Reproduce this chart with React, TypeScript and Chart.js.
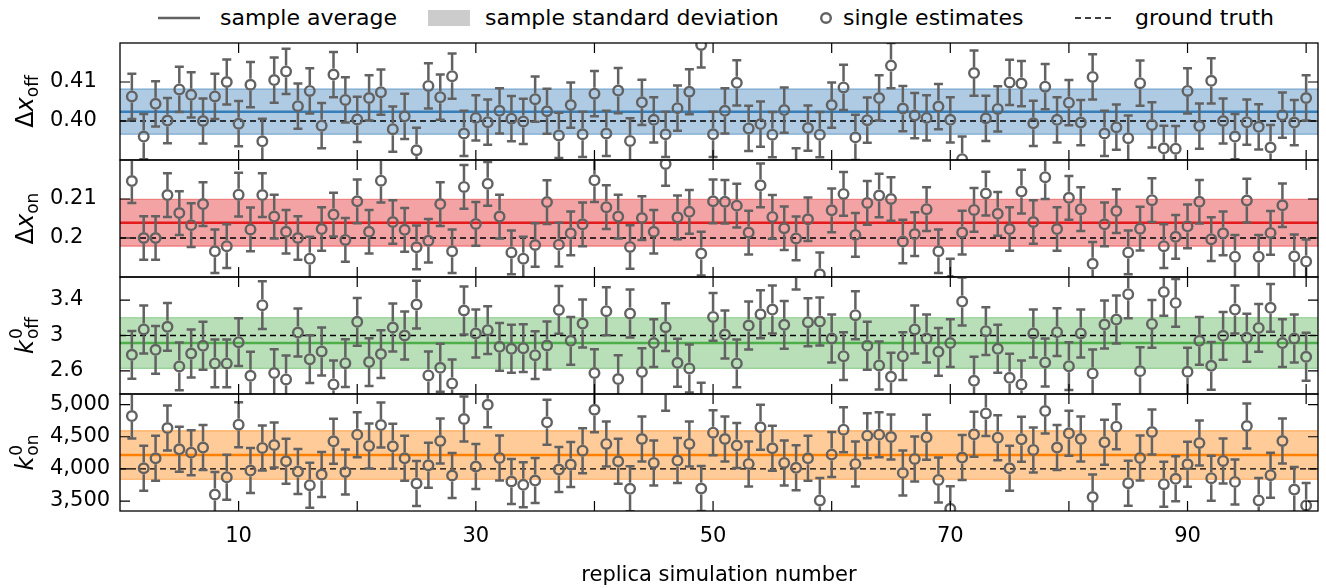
import React, { useEffect, useRef } from 'react';
import { Chart, registerables } from 'chart.js';
Chart.register(...registerables);

const FONT = "'DejaVu Sans', sans-serif";
const GRAY = '#626262';

const replicas = [
  1, 2, 3, 4, 5, 6, 7, 8, 9, 10, 11, 12, 13, 14, 15, 16, 17, 18, 19, 20,
  21, 22, 23, 24, 25, 26, 27, 28, 29, 30, 31, 32, 33, 34, 35, 36, 37, 38, 39, 40,
  41, 42, 43, 44, 45, 46, 47, 48, 49, 50, 51, 52, 53, 54, 55, 56, 57, 58, 59, 60,
  61, 62, 63, 64, 65, 66, 67, 68, 69, 70, 71, 72, 73, 74, 75, 76, 77, 78, 79, 80,
  81, 82, 83, 84, 85, 86, 87, 88, 89, 90, 91, 92, 93, 94, 95, 96, 97, 98, 99, 100,
];

const dxOffValues = [
  0.4063, 0.3960, 0.4044, 0.4001, 0.4081, 0.4067, 0.4000, 0.4063, 0.4100, 0.3993,
  0.4093, 0.3948, 0.4105, 0.4127, 0.4038, 0.4077, 0.3988, 0.4119, 0.4054, 0.4004,
  0.4059, 0.4074, 0.3979, 0.4012, 0.3925, 0.4090, 0.4061, 0.4115, 0.3968, 0.4008,
  0.3997, 0.4026, 0.4006, 0.3999, 0.4056, 0.4025, 0.3963, 0.4041, 0.3966, 0.4070,
  0.3968, 0.4078, 0.3949, 0.4048, 0.4003, 0.3966, 0.4033, 0.4075, 0.4195, 0.3966,
  0.4026, 0.4098, 0.3981, 0.3992, 0.3965, 0.4028, 0.3872, 0.3982, 0.3965, 0.4041,
  0.4086, 0.3958, 0.4002, 0.4059, 0.4142, 0.4032, 0.4014, 0.4008, 0.4037, 0.4003,
  0.3902, 0.4123, 0.4007, 0.4031, 0.4099, 0.4096, 0.3994, 0.4088, 0.4003, 0.4047,
  0.3996, 0.4113, 0.3968, 0.3984, 0.3956, 0.4097, 0.3990, 0.3930, 0.3929, 0.4077,
  0.3987, 0.4103, 0.4000, 0.3960, 0.3997, 0.3985, 0.3932, 0.4015, 0.3996, 0.4059,
];

const dxOnValues = [
  0.2146, 0.2000, 0.2000, 0.2110, 0.2064, 0.2033, 0.2087, 0.1966, 0.1979, 0.2111,
  0.2022, 0.2110, 0.2055, 0.2016, 0.2000, 0.1947, 0.2023, 0.2060, 0.1995, 0.2094,
  0.2016, 0.2147, 0.2041, 0.2021, 0.1976, 0.1993, 0.2087, 0.1966, 0.2131, 0.2036,
  0.2139, 0.2055, 0.1963, 0.1947, 0.1982, 0.2092, 0.1983, 0.2012, 0.2035, 0.2148,
  0.2079, 0.2055, 0.1977, 0.2051, 0.2016, 0.2190, 0.2053, 0.2067, 0.1960, 0.2094,
  0.2093, 0.2083, 0.2014, 0.2135, 0.2054, 0.2025, 0.1999, 0.2048, 0.1907, 0.2071,
  0.2113, 0.2008, 0.2090, 0.2109, 0.2100, 0.1991, 0.2010, 0.2074, 0.1966, 0.1891,
  0.2014, 0.2072, 0.2114, 0.2062, 0.2023, 0.2119, 0.2041, 0.2156, 0.2023, 0.2103,
  0.2074, 0.1934, 0.2035, 0.2069, 0.1963, 0.2024, 0.2097, 0.1979, 0.2003, 0.2030,
  0.2093, 0.1997, 0.2012, 0.1952, 0.2096, 0.1952, 0.2013, 0.2084, 0.1953, 0.1940,
];

const kOffValues = [
  2.782, 3.068, 2.838, 3.098, 2.651, 2.797, 2.884, 2.685, 2.685, 2.925,
  2.546, 3.342, 2.576, 2.504, 3.034, 2.733, 2.820, 2.448, 2.688, 3.154,
  2.700, 2.790, 3.090, 3.000, 3.349, 2.549, 2.636, 2.459, 3.282, 3.023,
  3.060, 2.872, 2.850, 2.857, 2.778, 2.887, 3.289, 2.940, 3.135, 2.576,
  3.274, 2.508, 3.248, 2.587, 2.914, 3.094, 2.692, 2.628, 2.196, 3.210,
  3.011, 2.685, 3.113, 3.240, 3.293, 3.120, 3.789, 3.150, 3.158, 2.966,
  2.767, 3.229, 2.884, 2.662, 2.534, 2.767, 3.068, 2.966, 2.816, 2.914,
  3.383, 2.489, 3.049, 2.850, 2.523, 2.448, 3.023, 2.696, 3.038, 2.654,
  3.023, 2.572, 3.124, 3.180, 3.466, 2.598, 3.131, 3.492, 3.368, 2.591,
  2.940, 2.658, 2.996, 3.293, 2.974, 3.086, 3.312, 2.914, 2.966, 2.760,
];

const kOnValues = [
  4822, 4010, 4165, 4636, 4305, 4253, 4331, 3602, 3871, 4688,
  3974, 4326, 4372, 4119, 3959, 3747, 3912, 4429, 3953, 4533,
  4357, 4682, 4352, 4165, 3773, 4057, 4434, 3897, 4776, 4036,
  4998, 4171, 3804, 3752, 3819, 4724, 3990, 4067, 4284, 4920,
  4388, 4119, 3690, 4465, 4093, 5256, 4129, 4388, 3695, 4564,
  4465, 4362, 4078, 4646, 4321, 4093, 4016, 4165, 3509, 4222,
  4610, 4078, 4517, 4533, 4496, 3938, 4155, 4491, 3829, 3380,
  4176, 4538, 4863, 4486, 4010, 4460, 4295, 4900, 4331, 4553,
  4465, 3561, 4414, 4657, 3778, 4171, 4574, 3762, 3845, 4072,
  4403, 3855, 4124, 3798, 4667, 3509, 3902, 4434, 3679, 3431,
];

const dxOffError = 0.0058;
const dxOnError = 0.0056;
const kOffError = 0.27;
const kOnError = 350;

const dxOffMean = 0.4024;
const dxOffStd = 0.0058;
const dxOnMean = 0.2039;
const dxOnStd = 0.0060;
const kOffMean = 2.915;
const kOffStd = 0.286;
const kOnMean = 4215;
const kOnStd = 378;

const dxOffTruth = 0.4;
const dxOnTruth = 0.2;
const kOffTruth = 3.0;
const kOnTruth = 4000;

const dxOffTicks = [0.4, 0.41];
const dxOffTickLabels = ['0.40', '0.41'];
const dxOnTicks = [0.2, 0.21];
const dxOnTickLabels = ['0.2', '0.21'];
const kOffTicks = [2.6, 3, 3.4];
const kOffTickLabels = ['2.6', '3', '3.4'];
const kOnTicks = [3500, 4000, 4500, 5000];
const kOnTickLabels = ['3,500', '4,000', '4,500', '5,000'];

const xTickValues = [10, 20, 30, 40, 50, 60, 70, 80, 90, 100];
const xTickLabels = ['10', '', '30', '', '50', '', '70', '', '90', ''];
const xMin = 0;
const xMax = 101;
const xTitle = 'replica simulation number';

const legendLabels = ['sample average', 'sample standard deviation', 'single estimates', 'ground truth'];

type TitleKind = { kind: 'dx' | 'k'; sub: string };

type PanelCfg = {
  values: number[];
  err: number;
  mean: number;
  std: number;
  truth: number;
  min: number;
  max: number;
  ticks: number[];
  tickLabels: string[];
  color: [number, number, number];
  title: TitleKind;
};

const panels: PanelCfg[] = [
  { values: dxOffValues, err: dxOffError, mean: dxOffMean, std: dxOffStd, truth: dxOffTruth, min: 0.39, max: 0.42, ticks: dxOffTicks, tickLabels: dxOffTickLabels, color: [55, 126, 184], title: { kind: 'dx', sub: 'off' } },
  { values: dxOnValues, err: dxOnError, mean: dxOnMean, std: dxOnStd, truth: dxOnTruth, min: 0.19, max: 0.22, ticks: dxOnTicks, tickLabels: dxOnTickLabels, color: [228, 26, 28], title: { kind: 'dx', sub: 'on' } },
  { values: kOffValues, err: kOffError, mean: kOffMean, std: kOffStd, truth: kOffTruth, min: 2.34, max: 3.66, ticks: kOffTicks, tickLabels: kOffTickLabels, color: [77, 175, 74], title: { kind: 'k', sub: 'off' } },
  { values: kOnValues, err: kOnError, mean: kOnMean, std: kOnStd, truth: kOnTruth, min: 3345, max: 5165, ticks: kOnTicks, tickLabels: kOnTickLabels, color: [255, 127, 0], title: { kind: 'k', sub: 'on' } },
];

const PANEL_TOPS = [43, 160, 277, 394];
const PANEL_H = 117;
const PAD = 25;
const W = 1326;
const H = 588;

const rgba = (c: [number, number, number], a: number) => `rgba(${c[0]},${c[1]},${c[2]},${a})`;

function drawYTitle(ctx: CanvasRenderingContext2D, t: TitleKind, cx: number, cy: number) {
  const big = `24px ${FONT}`;
  const bigIt = `italic 24px ${FONT}`;
  const small = `17px ${FONT}`;
  ctx.save();
  ctx.translate(cx, cy);
  ctx.rotate(-Math.PI / 2);
  ctx.fillStyle = '#000';
  ctx.textAlign = 'left';
  ctx.textBaseline = 'alphabetic';
  if (t.kind === 'dx') {
    ctx.font = big;
    const w1 = ctx.measureText('\u0394').width;
    ctx.font = bigIt;
    const w2 = ctx.measureText('x').width;
    ctx.font = small;
    const w3 = ctx.measureText(t.sub).width;
    let x = -(w1 + w2 + w3) / 2;
    ctx.font = big;
    ctx.fillText('\u0394', x, 0);
    x += w1;
    ctx.font = bigIt;
    ctx.fillText('x', x, 0);
    x += w2;
    ctx.font = small;
    ctx.fillText(t.sub, x, 5);
  } else {
    ctx.font = bigIt;
    const w1 = ctx.measureText('k').width + 1;
    ctx.font = small;
    const w2 = Math.max(ctx.measureText('0').width, ctx.measureText(t.sub).width);
    let x = -(w1 + w2) / 2;
    ctx.font = bigIt;
    ctx.fillText('k', x, 0);
    x += w1;
    ctx.font = small;
    ctx.fillText('0', x, -11);
    ctx.fillText(t.sub, x, 5);
  }
  ctx.restore();
}

function Panel({ cfg, index }: { cfg: PanelCfg; index: number }) {
  const ref = useRef<HTMLCanvasElement>(null);
  const isBottom = index === panels.length - 1;
  const canvasTop = PANEL_TOPS[index] - PAD;
  const canvasH = isBottom ? H - canvasTop : PANEL_H + 2 * PAD;

  useEffect(() => {
    const canvas = ref.current;
    if (!canvas) return;
    const pts = replicas.map((r, i) => ({ x: r, y: cfg.values[i] }));
    const span = (v: number) => [{ x: xMin, y: v }, { x: xMax, y: v }];

    const decorations = {
      id: 'decorations' + index,
      afterDatasetsDraw(chart: any) {
        const { ctx, chartArea } = chart;
        const xs = chart.scales.x;
        const ys = chart.scales.y;
        ctx.save();
        ctx.beginPath();
        ctx.rect(chartArea.left, chartArea.top, chartArea.right - chartArea.left, chartArea.bottom - chartArea.top);
        ctx.clip();
        ctx.strokeStyle = GRAY;
        ctx.lineWidth = 2.5;
        const r = 6;
        const cap = 4.5;
        replicas.forEach((rep, i) => {
          const v = cfg.values[i];
          const px = xs.getPixelForValue(rep);
          const py = ys.getPixelForValue(v);
          const pt = ys.getPixelForValue(v + cfg.err);
          const pb = ys.getPixelForValue(v - cfg.err);
          ctx.beginPath();
          ctx.moveTo(px, pt);
          ctx.lineTo(px, py - r);
          ctx.moveTo(px, py + r);
          ctx.lineTo(px, pb);
          ctx.moveTo(px - cap, pt);
          ctx.lineTo(px + cap, pt);
          ctx.moveTo(px - cap, pb);
          ctx.lineTo(px + cap, pb);
          ctx.stroke();
        });
        ctx.restore();
      },
      afterDraw(chart: any) {
        const { ctx, chartArea } = chart;
        const { left, right, top, bottom } = chartArea;
        const xs = chart.scales.x;
        const ys = chart.scales.y;
        ctx.save();
        ctx.strokeStyle = '#000';
        ctx.lineWidth = 1.3;
        ctx.strokeRect(left, top, right - left, bottom - top);
        ctx.lineWidth = 1.2;
        ctx.beginPath();
        xTickValues.forEach((v) => {
          const px = xs.getPixelForValue(v);
          ctx.moveTo(px, top);
          ctx.lineTo(px, top + 10);
          ctx.moveTo(px, bottom);
          ctx.lineTo(px, bottom - 10);
        });
        cfg.ticks.forEach((v) => {
          const py = ys.getPixelForValue(v);
          ctx.moveTo(left, py);
          ctx.lineTo(left + 10, py);
          ctx.moveTo(right, py);
          ctx.lineTo(right - 10, py);
        });
        ctx.stroke();
        ctx.restore();
        drawYTitle(ctx, cfg.title, 33, (top + bottom) / 2);
      },
    };

    const tickFont = { family: FONT, size: 21 };

    const chart = new Chart(canvas, {
      type: 'line',
      data: {
        datasets: [
          {
            label: legendLabels[2],
            data: pts,
            showLine: false,
            pointStyle: 'circle',
            pointRadius: 4.8,
            pointBorderWidth: 2.4,
            pointBorderColor: GRAY,
            pointBackgroundColor: 'rgba(0,0,0,0)',
            borderColor: GRAY,
            clip: 0,
          } as any,
          {
            label: legendLabels[3],
            data: span(cfg.truth),
            borderColor: '#000',
            borderWidth: 1.3,
            borderDash: [6, 4],
            pointRadius: 0,
            clip: 0,
          } as any,
          {
            label: legendLabels[0],
            data: span(cfg.mean),
            borderColor: rgba(cfg.color, 1),
            borderWidth: 2.5,
            pointRadius: 0,
            clip: 0,
          } as any,
          {
            label: 'upper',
            data: span(cfg.mean + cfg.std),
            borderColor: rgba(cfg.color, 0.45),
            borderWidth: 1.3,
            pointRadius: 0,
            fill: false,
            clip: 0,
          } as any,
          {
            label: legendLabels[1],
            data: span(cfg.mean - cfg.std),
            borderColor: rgba(cfg.color, 0.45),
            borderWidth: 1.3,
            pointRadius: 0,
            fill: '-1',
            backgroundColor: rgba(cfg.color, 0.4),
            clip: 0,
          } as any,
        ],
      },
      options: {
        responsive: false,
        animation: false,
        events: [],
        layout: { padding: { left: 50, right: 8, top: PAD, bottom: isBottom ? 0 : PAD } },
        plugins: { legend: { display: false }, tooltip: { enabled: false } },
        scales: {
          x: {
            type: 'linear',
            min: xMin,
            max: xMax,
            display: isBottom,
            afterBuildTicks: (s: any) => {
              s.ticks = xTickValues.map((v) => ({ value: v }));
            },
            afterFit: (s: any) => {
              if (isBottom) s.height = H - (PANEL_TOPS[index] + PANEL_H);
            },
            grid: { display: false, drawTicks: false },
            border: { display: false },
            ticks: {
              autoSkip: false,
              maxRotation: 0,
              padding: 13,
              color: '#000',
              font: tickFont,
              callback: (v: any) => {
                const i = xTickValues.indexOf(Number(v));
                return i >= 0 ? xTickLabels[i] : '';
              },
            },
            title: { display: true, text: xTitle, color: '#000', font: tickFont, padding: 0 },
          },
          y: {
            type: 'linear',
            min: cfg.min,
            max: cfg.max,
            afterBuildTicks: (s: any) => {
              s.ticks = cfg.ticks.map((v) => ({ value: v }));
            },
            afterFit: (s: any) => {
              s.width = 70;
            },
            grid: { display: false, drawTicks: false },
            border: { display: false },
            ticks: {
              crossAlign: 'far',
              padding: 0,
              color: '#000',
              font: tickFont,
              callback: (v: any) => {
                const i = cfg.ticks.findIndex((t) => Math.abs(t - Number(v)) < 1e-9);
                return i >= 0 ? cfg.tickLabels[i] : '';
              },
            },
          },
        },
      } as any,
      plugins: [decorations],
    });
    return () => chart.destroy();
  }, []);

  return (
    <canvas
      ref={ref}
      width={W}
      height={canvasH}
      style={{ position: 'absolute', left: 0, top: canvasTop, width: W, height: canvasH }}
    />
  );
}

function Legend() {
  const textStyle = (left: number): React.CSSProperties => ({
    position: 'absolute',
    left,
    top: 5,
    height: 26,
    lineHeight: '26px',
    fontFamily: FONT,
    fontSize: 22,
    color: '#000',
    whiteSpace: 'nowrap',
  });
  return (
    <>
      <svg width={W} height={36} style={{ position: 'absolute', left: 0, top: 0 }}>
        <line x1={158} y1={18} x2={200} y2={18} stroke={GRAY} strokeWidth={2.5} />
        <rect x={428} y={10} width={42} height={16} fill="rgba(128,128,128,0.4)" />
        <circle cx={826} cy={18} r={4.8} fill="none" stroke={GRAY} strokeWidth={2.4} />
        <line x1={1075} y1={18} x2={1115} y2={18} stroke="#000" strokeWidth={1.3} strokeDasharray="6 4" />
      </svg>
      <div style={textStyle(220)}>{legendLabels[0]}</div>
      <div style={textStyle(485)}>{legendLabels[1]}</div>
      <div style={textStyle(843)}>{legendLabels[2]}</div>
      <div style={textStyle(1135)}>{legendLabels[3]}</div>
    </>
  );
}

export default function App() {
  return (
    <div style={{ position: 'fixed', left: 0, top: 0, width: W, height: H, background: '#fff', overflow: 'hidden' }}>
      <Legend />
      {panels.map((p, i) => (
        <Panel key={i} cfg={p} index={i} />
      ))}
    </div>
  );
}
